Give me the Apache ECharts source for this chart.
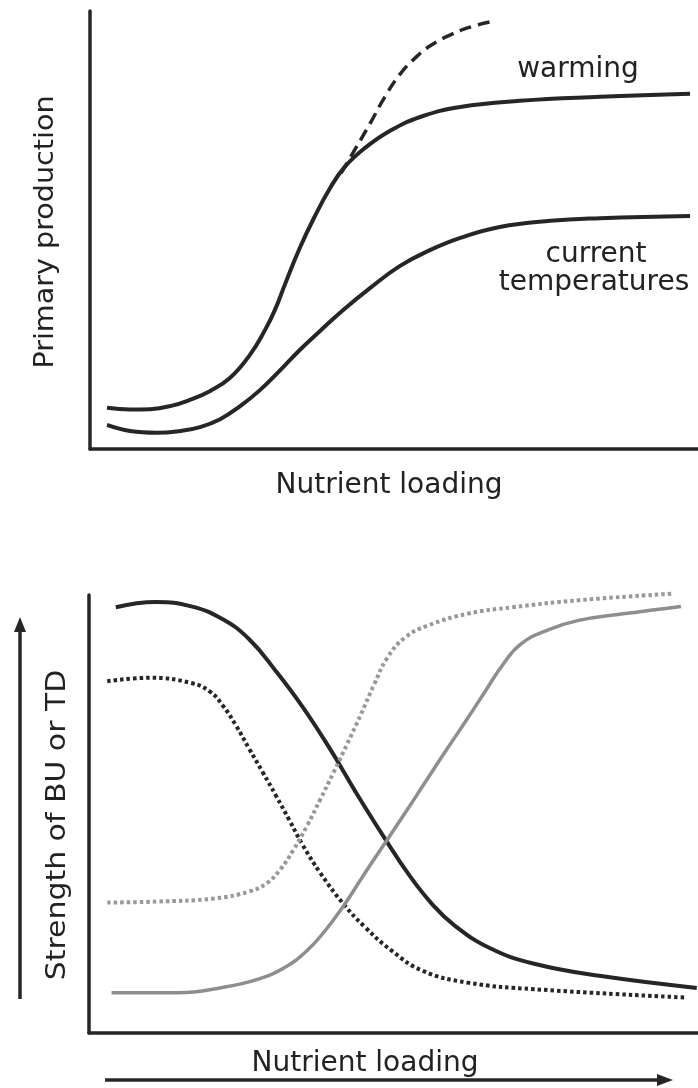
<!DOCTYPE html>
<html>
<head>
<meta charset="utf-8">
<script src="https://cdn.jsdelivr.net/npm/echarts@6.0.0/dist/echarts.min.js"></script>
<style>
html,body{margin:0;padding:0;background:#fff;}
#c{width:698px;height:1088px;}
</style>
</head>
<body>
<div id="c"></div>
<script>
// ---- Top panel: primary production vs nutrient loading (arbitrary units 0-100) ----
const warming = [[2.8,9.4],[6.6,9.0],[9.9,9.1],[13.2,9.8],[16.4,11.2],[19.7,13.2],[23.0,16.2],[26.3,21.5],[28.8,27.2],[30.4,31.7],[32.1,37.7],[34.5,45.9],[37.0,53.2],[39.5,59.6],[41.9,64.4],[45.2,68.7],[49.3,72.6],[54.3,75.8],[60.9,78.1],[70.7,79.5],[83.9,80.4],[98.7,81.1]];
const warmingPotential = [[41.3,63.0],[43.8,68.9],[46.1,74.4],[48.5,80.4],[51.0,85.6],[53.5,89.3],[55.9,92.0],[59.2,94.5],[62.5,96.3],[65.8,97.5]];
const current = [[2.8,5.5],[6.6,4.1],[10.9,3.7],[14.8,4.1],[18.1,5.0],[21.4,6.8],[24.7,9.8],[28.0,13.5],[31.3,18.0],[34.5,22.6],[37.8,26.9],[41.6,31.7],[46.1,36.8],[51.0,41.8],[55.9,45.4],[60.9,48.2],[67.4,50.7],[75.7,52.1],[83.9,52.7],[98.7,53.2]];

// ---- Bottom panel: strength of bottom-up (BU) or top-down (TD) control ----
const blackSolid = [[4.4,97.2],[11.0,98.4],[16.8,97.4],[21.9,94.5],[26.3,89.9],[30.7,82.6],[35.1,74.4],[39.6,64.8],[43.8,55.0],[48.3,45.0],[52.7,35.8],[56.3,29.5],[59.9,24.7],[65.8,19.4],[73.1,15.8],[84.1,13.0],[99.8,10.3]];
const blackDotted = [[3.0,80.3],[10.2,81.1],[16.8,79.9],[19.8,78.0],[21.9,74.9],[24.1,70.3],[26.3,64.9],[28.5,59.6],[30.7,54.2],[32.9,48.6],[35.1,42.9],[38.0,36.5],[41.7,29.6],[45.3,24.2],[49.7,18.8],[54.8,14.2],[62.2,11.5],[73.1,10.0],[98.0,8.1]];
const grayDotted = [[3.0,29.8],[11.0,30.0],[20.5,30.7],[26.3,32.3],[29.2,34.2],[31.4,37.3],[33.6,41.9],[35.8,47.3],[38.0,53.4],[40.2,59.6],[42.4,66.0],[44.6,72.6],[46.8,79.5],[49.0,85.7],[51.9,90.3],[55.6,93.0],[62.1,95.7],[69.5,97.2],[80.4,98.8],[95.8,100.3]];
const graySolid = [[3.7,9.2],[14.6,9.2],[21.9,10.4],[27.8,12.3],[32.2,15.0],[35.8,18.8],[38.8,23.4],[41.7,28.8],[44.6,35.0],[47.5,41.1],[50.5,47.3],[53.4,53.4],[56.3,59.6],[59.2,65.7],[62.2,71.9],[65.1,78.1],[68.0,84.2],[70.9,88.8],[75.3,92.0],[80.4,94.2],[87.7,95.7],[97.2,97.4]];

const xTitle = 'Nutrient loading';
const yTitleTop = 'Primary production';
const yTitleBottom = 'Strength of BU or TD';
const curveLabels = ['warming', 'current', 'temperatures'];

const DARK = '#262626';
const GRAY = '#8e8e8e';
const GRAY_DOT = '#999999';
const TEXT = '#222222';
const FONT = '"DejaVu Sans", Verdana, sans-serif';

function axisX(gi){
  return {gridIndex:gi, type:'value', min:0, max:100,
    axisLine:{show:true, lineStyle:{color:DARK, width:3.5}},
    axisTick:{show:false}, axisLabel:{show:false}, splitLine:{show:false}};
}
function axisY(gi){
  return {gridIndex:gi, type:'value', min:0, max:100,
    axisLine:{show:true, lineStyle:{color:DARK, width:3.5}},
    axisTick:{show:false}, axisLabel:{show:false}, splitLine:{show:false}};
}
function curve(gi, data, color, type, width){
  return {type:'line', xAxisIndex:gi, yAxisIndex:gi, data:data, smooth:0.45,
    showSymbol:false, symbol:'none', clip:false, silent:true,
    lineStyle:{color:color, width:width, type:type, cap:'butt'}};
}

const chart = echarts.init(document.getElementById('c'), null, {renderer:'canvas'});
chart.setOption({
  animation:false,
  backgroundColor:'#ffffff',
  grid:[
    {left:90, right:0, top:11, bottom:639},
    {left:89, right:0, top:595, bottom:55}
  ],
  xAxis:[axisX(0), axisX(1)],
  yAxis:[axisY(0), axisY(1)],
  series:[
    curve(0, warming, DARK, 'solid', 4),
    curve(0, warmingPotential, DARK, [12,7], 3.5),
    curve(0, current, DARK, 'solid', 4),
    curve(1, blackSolid, DARK, 'solid', 4),
    curve(1, blackDotted, DARK, [3.5,3], 4),
    curve(1, grayDotted, GRAY_DOT, [3.5,3], 4),
    curve(1, graySolid, GRAY, 'solid', 3.5)
  ],
  graphic:[
    {type:'text', x:578, y:70, style:{text:curveLabels[0], fill:TEXT, font:'28px '+FONT, align:'center', verticalAlign:'middle'}},
    {type:'text', x:596, y:255, style:{text:curveLabels[1], fill:TEXT, font:'28px '+FONT, align:'center', verticalAlign:'middle'}},
    {type:'text', x:594, y:283, style:{text:curveLabels[2], fill:TEXT, font:'28px '+FONT, align:'center', verticalAlign:'middle'}},
    {type:'text', x:389, y:486, style:{text:xTitle, fill:TEXT, font:'28px '+FONT, align:'center', verticalAlign:'middle'}},
    {type:'text', x:365, y:1064, style:{text:xTitle, fill:TEXT, font:'28px '+FONT, align:'center', verticalAlign:'middle'}},
    {type:'text', x:46, y:232, rotation:Math.PI/2, scaleX:1.1, style:{text:yTitleTop, fill:TEXT, font:'26px '+FONT, align:'center', verticalAlign:'middle'}},
    {type:'text', x:58, y:825, rotation:Math.PI/2, scaleX:1.15, style:{text:yTitleBottom, fill:TEXT, font:'26px '+FONT, align:'center', verticalAlign:'middle'}},
    // vertical arrow
    {type:'line', shape:{x1:20, y1:999, x2:20, y2:628}, style:{stroke:DARK, lineWidth:3.5}},
    {type:'polygon', shape:{points:[[20,617],[14,632],[26,632]]}, style:{fill:DARK}},
    // horizontal arrow
    {type:'line', shape:{x1:105, y1:1080, x2:662, y2:1080}, style:{stroke:DARK, lineWidth:3.5}},
    {type:'polygon', shape:{points:[[673,1080],[657,1074],[657,1086]]}, style:{fill:DARK}}
  ]
});
</script>
</body>
</html>
